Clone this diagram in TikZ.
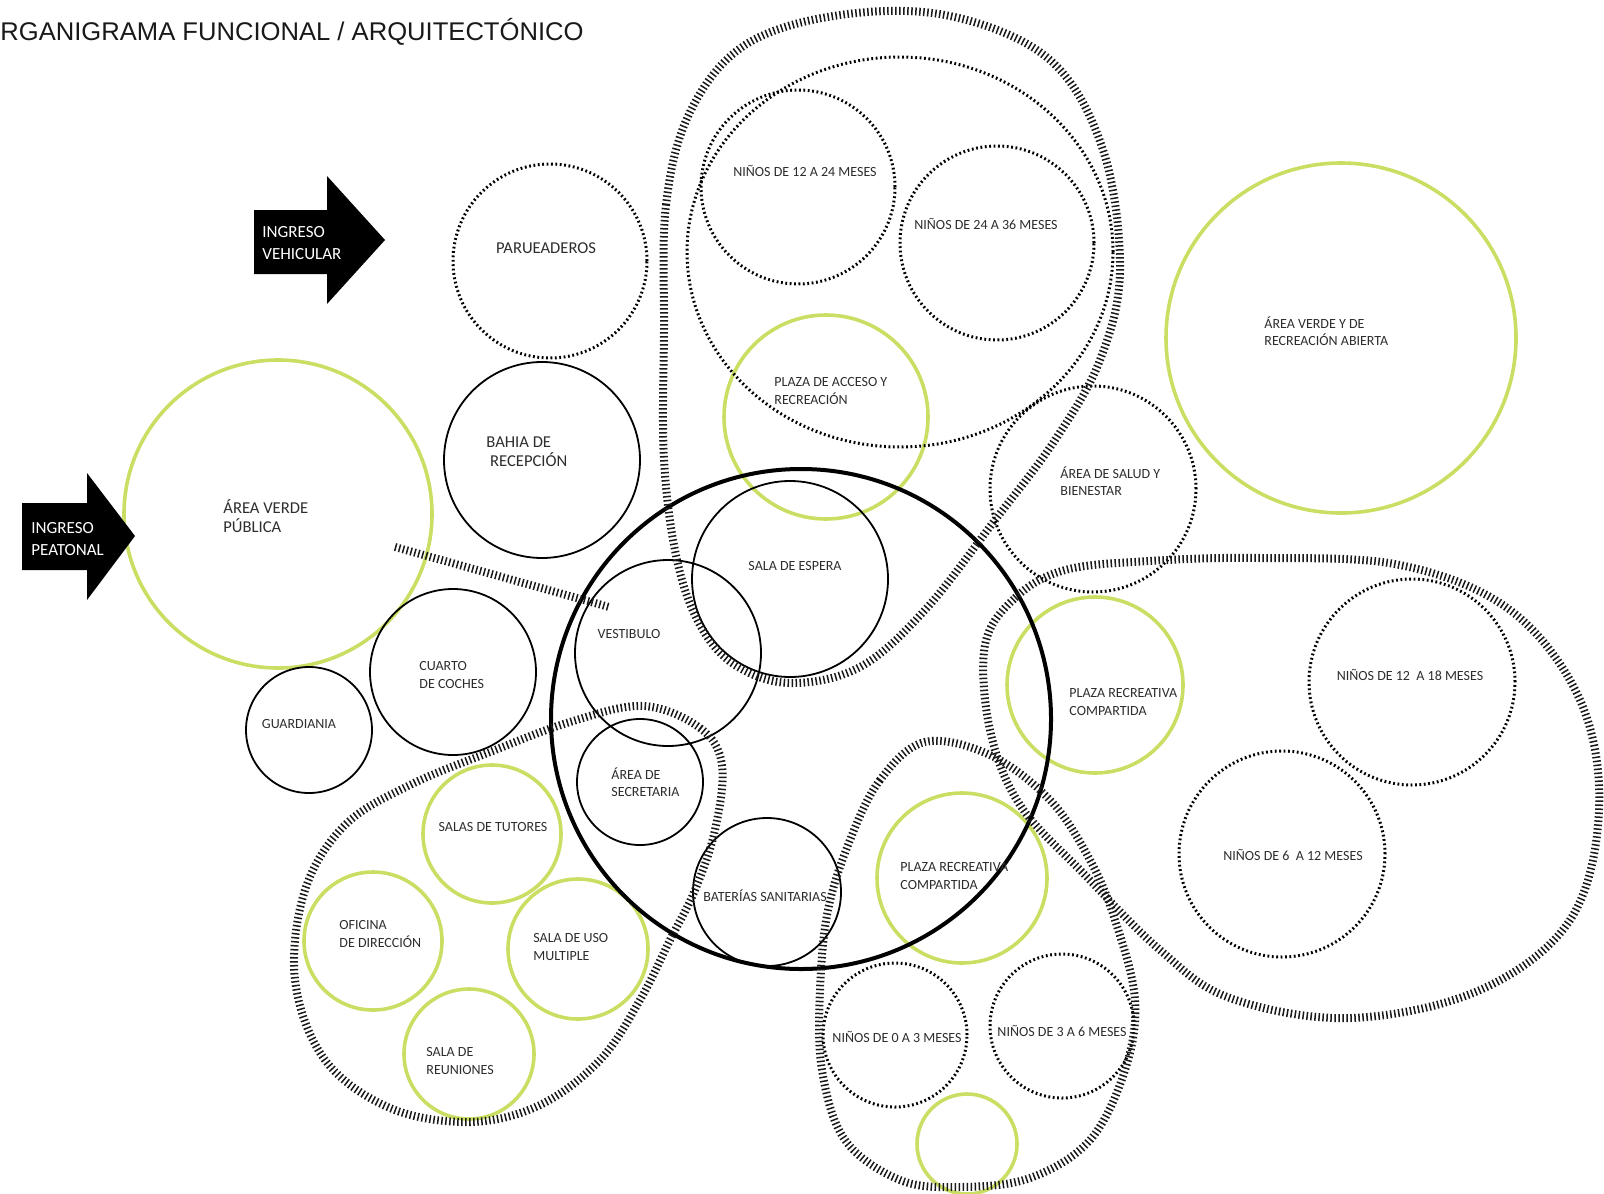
\documentclass[tikz,border=0pt]{standalone}
\usepackage{fontspec}
\setmainfont{Carlito}
\newfontfamily\titlefont{Liberation Sans}
\usetikzlibrary{positioning,shapes.geometric}
\definecolor{verdelin}{RGB}{204,221,100}
\definecolor{tinta}{RGB}{45,45,45}

\begin{document}
\begin{tikzpicture}[x=0.5pt, y=-0.5pt,
    espacio/.style={circle, draw=black, line width=0.9pt, inner sep=0pt},
    punteado/.style={circle, draw=black, line width=1.5pt, dash pattern=on 0.9pt off 1.3pt, inner sep=0pt},
    verde/.style={circle, draw=verdelin, line width=1.8pt, inner sep=0pt},
    peine/.style={draw=black!90, line width=4pt, dash pattern=on 0.75pt off 1.25pt},
    txt/.style={font=\fontsize{7}{8.7}\selectfont, text=tinta, align=left, inner sep=0pt},
    txtg/.style={font=\fontsize{8.3}{9.7}\selectfont, text=tinta, align=left, inner sep=0pt},
    flecha/.style={fill=black}]

    \useasboundingbox (0,0) rectangle (1604,1193);

    % Title
    \node[anchor=base west, inner sep=0pt, text=black!90, font=\titlefont\fontsize{12.8}{15}\selectfont] (titulo) at (0,41) {RGANIGRAMA FUNCIONAL / ARQUITECTÓNICO};

    % Entrance arrows
    \fill[flecha] (254,210) -- (327,210) -- (327,176) -- (385,240) -- (327,304) -- (327,274) -- (254,274) -- cycle;
    \node[txtg, text=white, font=\fontsize{8.5}{10.7}\selectfont, anchor=west] (ingV) at (262,243) {INGRESO\\VEHICULAR};

    % Green (open / recreational) spaces
    \node[verde, minimum size=154pt] (verdePub)  at (278,514) {};
    \node[verde, minimum size=175pt] (verdeAbi)  at (1341,338) {};
    \node[verde, minimum size=102pt] (plazaAcc)  at (826,417) {};
    \node[verde, minimum size=88pt]  (plazaRec1) at (1095,685) {};
    \node[verde, minimum size=85pt]  (plazaRec2) at (962,878) {};
    \node[verde, minimum size=50pt]  (verdeBaj)  at (967,1144) {};
    \node[verde, minimum size=69pt]  (tutores)   at (492,834) {};
    \node[verde, minimum size=69pt]  (direccion) at (373,941) {};
    \node[verde, minimum size=70pt]  (usoMult)   at (578,949) {};
    \node[verde, minimum size=65pt]  (reuniones) at (469,1054) {};

    \fill[flecha] (22,503) -- (87,503) -- (87,473) -- (135,536) -- (87,600) -- (87,570) -- (22,570) -- cycle;
    \node[txtg, text=white, font=\fontsize{8.5}{10.7}\selectfont, anchor=west] (ingP) at (31,539) {INGRESO\\PEATONAL};

    % Solid spaces
    \node[espacio, minimum size=98pt] (bahia)     at (542,460) {};
    \node[espacio, minimum size=83pt] (coches)    at (453,672) {};
    \node[espacio, minimum size=63pt] (guardia)   at (309,730) {};
    \node[espacio, minimum size=93pt] (vestibulo) at (668,653) {};
    \node[espacio, minimum size=98pt] (espera)    at (790,579) {};
    \node[espacio, minimum size=63pt] (secretaria) at (640,782) {};
    \node[espacio, minimum size=74pt] (banos)     at (767,892) {};
    \node[espacio, line width=2pt, minimum size=250pt] (nucleo) at (801,719) {};

    % Dotted spaces (children rooms, parking, health)
    \node[punteado, minimum size=97pt]  (parqueo) at (550,261) {};
    \node[punteado, minimum size=97pt]  (n1224)   at (798,187) {};
    \node[punteado, minimum size=97pt]  (n2436)   at (997,243) {};
    \node[punteado, minimum size=103pt] (salud)   at (1093,489) {};
    \node[punteado, minimum size=103pt] (n1218)   at (1412,682) {};
    \node[punteado, minimum size=103pt] (n0612)   at (1282,854) {};
    \node[punteado, minimum size=72pt]  (n0003)   at (895,1035) {};
    \node[punteado, minimum size=72pt]  (n0306)   at (1062,1026) {};
    \node[punteado, ellipse, minimum width=213pt, minimum height=195pt] (grupoMay) at (900,252) {};

    % Hatched zone outlines
    \draw[peine] plot[smooth cycle, tension=0.6] coordinates {
        (664,330) (666,205) (690,112) (745,45) (840,15) (950,16) (1050,60) (1103,150)
        (1120,270) (1100,360) (1055,440) (995,520) (925,610) (860,667) (790,683)
        (735,665) (700,625) (677,560) (664,460)};
    \draw[peine] plot[smooth cycle, tension=0.6] coordinates {
        (985,645) (1015,598) (1065,570) (1150,561) (1260,558) (1400,565) (1510,610)
        (1580,700) (1599,810) (1570,920) (1480,990) (1350,1018) (1230,998) (1160,950)
        (1085,875) (1020,805) (990,730)};
    \draw[peine] plot[smooth cycle, tension=0.6] coordinates {
        (925,742) (880,780) (850,840) (828,910) (820,990) (822,1070) (845,1140)
        (900,1180) (960,1187) (1030,1178) (1090,1140) (1125,1070) (1135,1000)
        (1115,920) (1090,860) (1050,800) (990,755)};
    \draw[peine] plot[smooth cycle, tension=0.6] coordinates {
        (643,706) (700,728) (722,765) (715,830) (695,890) (670,940) (640,1000)
        (600,1060) (540,1105) (470,1122) (390,1108) (325,1060) (295,980) (305,890)
        (345,825) (410,785) (490,752) (570,722)};
    \coordinate (lim1) at (395,547);
    \coordinate (lim2) at (609,607);
    \draw[peine] (lim1) -- (lim2);

    % Labels
    \node[txtg, anchor=west] (tVerdePub) at (223,516) {ÁREA VERDE\\PÚBLICA};
    \node[txtg] (tParqueo) at (546,248) {PARUEADEROS};
    \node[txtg, anchor=west] (tBahia) at (486,452) {BAHIA DE\\\ RECEPCIÓN};
    \node[txt, anchor=west] (tCoches) at (419,675) {CUARTO\\DE COCHES};
    \node[txt] (tGuardia) at (299,724) {GUARDIANIA};
    \node[txt] (tVestibulo) at (629,634) {VESTIBULO};
    \node[txt] (tEspera) at (795,566) {SALA DE ESPERA};
    \node[txt, anchor=west] (tSecretaria) at (611,782) {ÁREA DE\\SECRETARIA};
    \node[txt] (tBanos) at (765,896) {BATERÍAS SANITARIAS};
    \node[txt, anchor=west] (tPlazaAcc) at (774,391) {PLAZA DE ACCESO Y\\RECREACIÓN};
    \node[txt] (tN1224) at (805,171) {NIÑOS DE 12 A 24 MESES};
    \node[txt] (tN2436) at (986,224) {NIÑOS DE 24 A 36 MESES};
    \node[txt, anchor=west] (tVerdeAbi) at (1264,331) {ÁREA VERDE Y DE\\RECREACIÓN ABIERTA};
    \node[txt, anchor=west] (tSalud) at (1060,481) {ÁREA DE SALUD Y\\BIENESTAR};
    \node[txt, anchor=west] (tPlazaRec1) at (1069,702) {PLAZA RECREATIVA\\COMPARTIDA};
    \node[txt] (tN1218) at (1410,675) {NIÑOS DE 12 \ A 18 MESES};
    \node[txt] (tN0612) at (1293,855) {NIÑOS DE 6 \ A 12 MESES};
    \node[txt, anchor=west] (tPlazaRec2) at (900,876) {PLAZA RECREATIVA\\COMPARTIDA};
    \node[txt] (tN0003) at (897,1037) {NIÑOS DE 0 A 3 MESES};
    \node[txt] (tN0306) at (1062,1031) {NIÑOS DE 3 A 6 MESES};
    \node[txt] (tTutores) at (493,827) {SALAS DE TUTORES};
    \node[txt, anchor=west] (tDireccion) at (339,934) {OFICINA\\DE DIRECCIÓN};
    \node[txt, anchor=west] (tUsoMult) at (533,947) {SALA DE USO\\MULTIPLE};
    \node[txt, anchor=west] (tReuniones) at (426,1061) {SALA DE\\REUNIONES};
\end{tikzpicture}
\end{document}
